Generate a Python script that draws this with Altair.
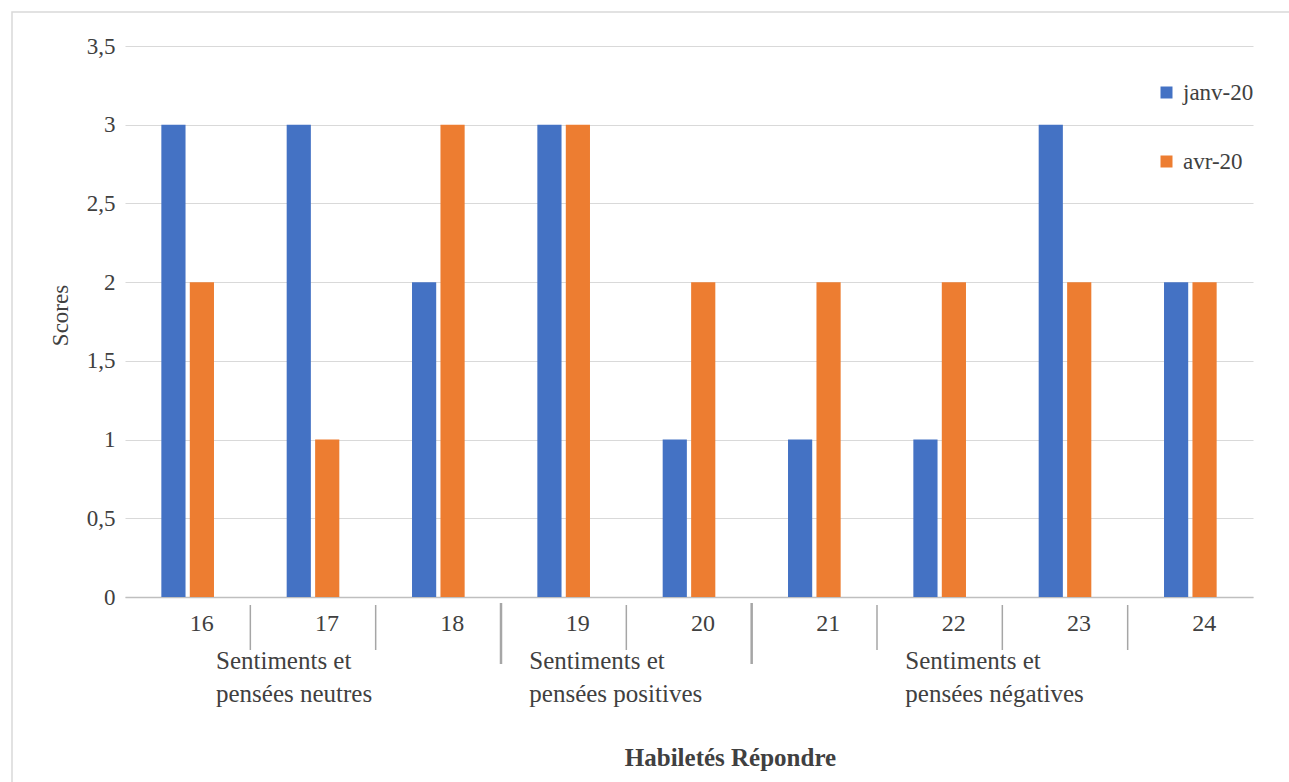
import altair as alt
import pandas as pd

categories = ["16", "17", "18", "19", "20", "21", "22", "23", "24"]
janv_20 = [3, 3, 2, 3, 1, 1, 1, 3, 2]
avr_20 = [2, 1, 3, 3, 2, 2, 2, 2, 2]
series_names = ["janv-20", "avr-20"]
series_colors = ["#4472C4", "#ED7D31"]
y_ticks = [0, 0.5, 1, 1.5, 2, 2.5, 3, 3.5]

group_labels = ["Sentiments et\npensées neutres", "Sentiments et\npensées positives", "Sentiments et\npensées négatives"]
group_first = [0, 3, 5]
group_last = [2, 4, 8]

FONT = "Liberation Serif, Times New Roman, Times, DejaVu Serif, serif"
TXT = "#404040"
n = len(categories)

rows = []
for c, a, b in zip(categories, janv_20, avr_20):
    rows.append({"cat": c, "series": series_names[0], "value": a})
    rows.append({"cat": c, "series": series_names[1], "value": b})
df = pd.DataFrame(rows)

grp_df = pd.DataFrame({
    "label": group_labels,
    "center": [(f + l + 1) / 2 for f, l in zip(group_first, group_last)],
})
group_starts = set(group_first[1:])
sep_df = pd.DataFrame({
    "pos": list(range(1, n)),
    "major": [k in group_starts for k in range(1, n)],
})

xq = alt.Scale(domain=[0, n], nice=False, zero=False)

frame = alt.Chart(pd.DataFrame({"k": [0]})).mark_rect(
    fill=None, stroke="#d9d9d9", strokeWidth=1.5).encode(
    x=alt.value(-113), x2=alt.value(1175), y=alt.value(-34), y2=alt.value(745),
)

bars = alt.Chart(df).mark_bar().encode(
    x=alt.X("cat:N", sort=categories,
            scale=alt.Scale(paddingInner=0.58, paddingOuter=0.29),
            axis=alt.Axis(title="Habiletés Répondre", labelAngle=0, ticks=False,
                          labelFontSize=24, labelFont=FONT, labelColor=TXT,
                          labelPadding=14, labelOffset=14,
                          domainColor="#bfbfbf", domainWidth=1.5,
                          titleFont=FONT, titleFontSize=25, titleFontWeight="bold",
                          titleColor=TXT, titleX=605, titleY=160,
                          titleBaseline="middle")),
    xOffset=alt.XOffset("series:N", sort=series_names,
                        scale=alt.Scale(paddingInner=0.15)),
    y=alt.Y("value:Q", scale=alt.Scale(domain=[0, 3.5], nice=False),
            axis=alt.Axis(values=y_ticks, title="Scores", ticks=False, domain=False,
                          labelExpr="replace(format(datum.value, '.1~f'), '.', ',')",
                          labelFontSize=23, labelFont=FONT, labelColor=TXT,
                          labelPadding=10, gridColor="#d9d9d9", gridWidth=1,
                          titleFont=FONT, titleFontSize=23, titleFontWeight="normal",
                          titleColor=TXT, titleX=-53, titleY=269)),
    color=alt.Color("series:N", sort=series_names,
                    scale=alt.Scale(domain=series_names, range=series_colors),
                    legend=alt.Legend(title=None, orient="none", legendX=1030, legendY=35,
                                      symbolType="square", symbolSize=144,
                                      symbolStrokeWidth=0, labelFont=FONT,
                                      labelFontSize=23, labelColor=TXT,
                                      rowPadding=45, labelOffset=5)),
)

seps_minor = alt.Chart(sep_df).transform_filter("!datum.major").mark_rule(
    color="#a6a6a6", strokeWidth=1.5).encode(
    x=alt.X("pos:Q", scale=xq, axis=None),
    y=alt.value(559), y2=alt.value(604),
)
seps_major = alt.Chart(sep_df).transform_filter("datum.major").mark_rule(
    color="#a6a6a6", strokeWidth=2.5).encode(
    x=alt.X("pos:Q", scale=xq, axis=None),
    y=alt.value(557), y2=alt.value(618),
)

group_text = alt.Chart(grp_df).mark_text(
    align="left", baseline="top", lineBreak="\n", lineHeight=33,
    font=FONT, fontSize=25, color=TXT, dx=-97).encode(
    x=alt.X("center:Q", scale=xq, axis=None),
    y=alt.value(603),
    text="label:N",
)

chart = alt.layer(frame, bars, seps_minor, seps_major, group_text).resolve_scale(
    x="independent"
).properties(
    width=1128, height=551,
    autosize=alt.AutoSizeParams(type="none"),
    padding={"left": 125, "top": 46, "right": 36, "bottom": 185},
    background="white",
).configure_view(strokeWidth=0)

chart.save("out.html", embed_options={"renderer": "svg", "actions": False})
